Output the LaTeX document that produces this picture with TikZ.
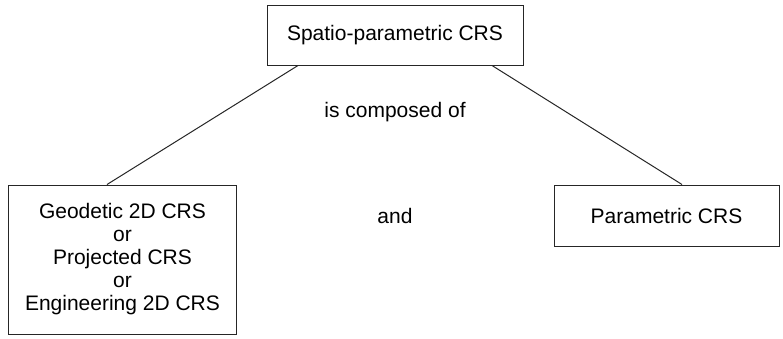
\documentclass[tikz,border=0pt]{standalone}
\usepackage{fontspec}
\setmainfont{Liberation Sans}
\begin{document}
\begin{tikzpicture}[x=1bp,y=-1bp,
  crsbox/.style={draw=black!85, line width=1bp, inner sep=0pt, align=center,
    font=\fontsize{21bp}{23bp}\selectfont},
  link/.style={draw=black!85, line width=1bp},
  lbl/.style={inner sep=0pt, font=\fontsize{21bp}{23bp}\selectfont}]
  \useasboundingbox (0,0) rectangle (783,338);
  % the composite CRS and its two components
  \node[crsbox, minimum width=256bp, minimum height=60bp] (top) at (395,35) {Spatio-parametric CRS};
  \node[crsbox, minimum width=227bp, minimum height=149bp] (geo) at (122.5,259.5)
    {Geodetic 2D CRS\\or\\Projected CRS\\or\\Engineering 2D CRS};
  \node[crsbox, minimum width=225bp, minimum height=61bp] (par) at (666.5,215.5) {Parametric CRS};
  % relation labels
  \node[lbl] (comp) at (395,112) {is composed of};
  \node[lbl] (and) at (395,215.5) {and};
  % connectors
  \draw[link] ([xshift=-97bp]top.south) -- ([xshift=-15.5bp]geo.north);
  \draw[link] ([xshift=97bp]top.south) -- ([xshift=15.5bp]par.north);
\end{tikzpicture}
\end{document}
